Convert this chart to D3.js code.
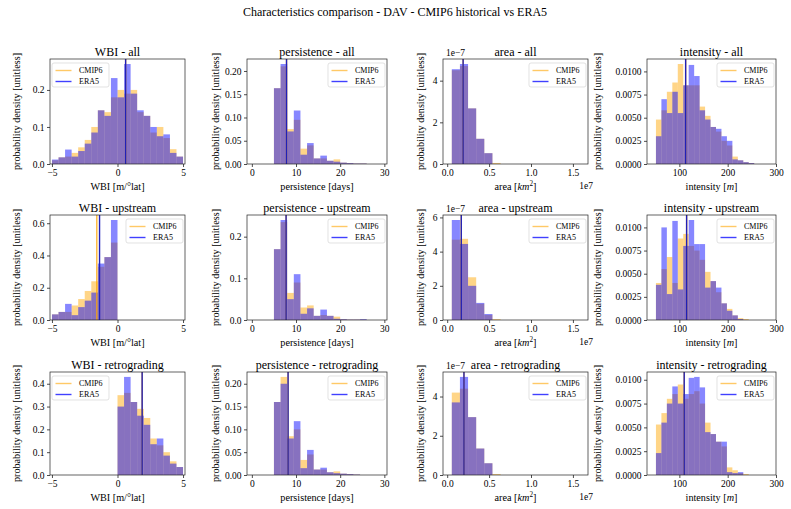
<!DOCTYPE html>
<html><head><meta charset="utf-8">
<script src="https://cdn.jsdelivr.net/npm/d3@7"></script>
<style>body{margin:0;background:#fff}svg{display:block}</style>
</head><body><svg id="c" width="791" height="509"></svg>
<script>
// ---------------- DATA ----------------
const seriesNames = ["CMIP6", "ERA5"];
const suptitle = "Characteristics comparison - DAV - CMIP6 historical vs ERA5";

// WBI
const wbiAllEdges = [-5,-4.5,-4,-3.5,-3,-2.5,-2,-1.5,-1,-0.5,0,0.5,1,1.5,2,2.5,3,3.5,4,4.5,5];
const wbiAllCmip6 = [0.010,0.018,0.020,0.030,0.045,0.065,0.100,0.145,0.140,0.180,0.200,0.190,0.200,0.140,0.130,0.085,0.100,0.070,0.040,0.020];
const wbiAllEra5  = [0.012,0.018,0.039,0.020,0.035,0.055,0.085,0.145,0.130,0.232,0.180,0.270,0.190,0.145,0.130,0.100,0.075,0.080,0.030,0.020];
const wbiUpEdges = [-5,-4.5,-4,-3.5,-3,-2.5,-2,-1.5,-1,-0.5,0];
const wbiUpCmip6 = [0.035,0.050,0.050,0.090,0.130,0.180,0.240,0.330,0.390,0.480];
const wbiUpEra5  = [0.035,0.050,0.100,0.030,0.080,0.120,0.170,0.350,0.390,0.620];
const wbiReEdges = [0,0.5,1,1.5,2,2.5,3,3.5,4,4.5,5];
const wbiReCmip6 = [0.350,0.360,0.320,0.290,0.250,0.160,0.130,0.100,0.060,0.035];
const wbiReEra5  = [0.300,0.430,0.320,0.260,0.220,0.135,0.160,0.085,0.050,0.035];

// persistence
const persEdges = [5,6.5,8,9.5,11,12.5,14,15.5,17,18.5,20,21.5,23,24.5,26];
const persAllCmip6 = [0.163,0.210,0.075,0.095,0.033,0.040,0.012,0.012,0.007,0.010,0.003,0.002,0.001,0.001];
const persAllEra5  = [0.163,0.215,0.070,0.115,0.020,0.045,0.012,0.018,0.007,0.005,0.003,0.002,0.001,0.001];
const persUpCmip6 = [0.170,0.235,0.065,0.090,0.030,0.035,0.010,0.012,0.010,0.008,0.002,0.001,0.001,0.001];
const persUpEra5  = [0.170,0.240,0.050,0.110,0.015,0.028,0.010,0.025,0.010,0.003,0.002,0.001,0.001,0.002];
const persReCmip6 = [0.160,0.215,0.085,0.100,0.033,0.045,0.012,0.012,0.006,0.008,0.003,0.002,0.001,0.000];
const persReEra5  = [0.160,0.200,0.080,0.118,0.015,0.055,0.012,0.016,0.006,0.004,0.003,0.002,0.001,0.000];

// area (x in units of 1e7 km^2, y in units of 1e-7)
const areaEdges = [0.055,0.152,0.249,0.346,0.443,0.540,0.637];
const areaAllCmip6 = [4.50,4.70,2.67,1.21,0.52,0.05];
const areaAllEra5  = [4.55,4.80,2.67,1.21,0.52,0.00];
const areaUpCmip6  = [4.70,4.75,2.50,0.95,0.30,0.05];
const areaUpEra5   = [5.85,4.45,2.00,1.00,0.35,0.00];
const areaReCmip6  = [4.20,4.40,2.95,1.35,0.60,0.05];
const areaReEra5   = [3.70,5.00,2.95,1.35,0.60,0.00];

// intensity
const intEdges = [51.5,62.8,74.1,85.4,96.7,108,119.3,130.6,141.9,153.2,164.5,175.8,187.1,198.4,209.7,221,232.3,243.6,254.9];
const intAllCmip6 = [0.0048,0.0058,0.0078,0.0088,0.0108,0.0085,0.0085,0.0085,0.0062,0.0052,0.0040,0.0035,0.0025,0.0020,0.0008,0.0004,0.0002,0.0001];
const intAllEra5  = [0.0030,0.0070,0.0055,0.0078,0.0055,0.0085,0.0107,0.0095,0.0058,0.0048,0.0040,0.0038,0.0030,0.0025,0.0005,0.0004,0.0002,0.0001];
const intUpCmip6  = [0.0040,0.0055,0.0068,0.0040,0.0088,0.0093,0.0080,0.0075,0.0065,0.0052,0.0042,0.0030,0.0018,0.0012,0.0005,0.0002,0.0001,0.0000];
const intUpEra5   = [0.0038,0.0100,0.0028,0.0107,0.0033,0.0080,0.0108,0.0082,0.0082,0.0035,0.0042,0.0035,0.0018,0.0010,0.0005,0.0001,0.0000,0.0000];
const intReCmip6  = [0.0053,0.0065,0.0080,0.0085,0.0095,0.0080,0.0085,0.0088,0.0075,0.0055,0.0043,0.0035,0.0030,0.0008,0.0005,0.0002,0.0001,0.0000];
const intReEra5   = [0.0023,0.0055,0.0075,0.0093,0.0075,0.0085,0.0102,0.0103,0.0092,0.0045,0.0043,0.0035,0.0035,0.0003,0.0002,0.0003,0.0000,0.0000];

// means (vertical lines) [CMIP6, ERA5]
const meanWbi  = {all:[0.62,0.62], up:[-1.58,-1.37], re:[1.88,1.88]};
const meanPers = {all:[7.85,7.85], up:[7.75,7.75], re:[8.2,8.2]};
const meanArea = {all:[0.19,0.19], up:[0.168,0.168], re:[0.2,0.2]};
const meanInt  = {all:[113,113], up:[115,115], re:[110,110]};

// ticks
const wbiXTicks = [-5,0,5];
const persXTicks = [0,10,20,30];
const areaXTicks = [0,0.5,1.0,1.5];
const intXTicks = [100,200,300];

// ---------------- LAYOUT ----------------
const FONT = '"Liberation Serif","Times New Roman",Times,serif';
const svg = d3.select('#c');
const colsX = [[50,185],[247,387],[443,588],[647,776]];
const rowsY = [[59,164],[215,320],[372,475]];
const ylabX = [16,215,420,597];
const ORANGE = '#ffa500', BLUE = '#0000ff', LINEBLUE = '#2020b8';
const ALPHA = 0.47;
const TICKFS = 9.5, LABFS = 10.2, TITLEFS = 12, LEGFS = 8;

svg.append('text').attr('x',395).attr('y',16).attr('text-anchor','middle')
  .attr('font-family',FONT).attr('font-size',12).text(suptitle);

const fmtMinus = s => s.replace('-', '\u2212');

function panel(p){
  const [x0,x1] = colsX[p.col], [y0,y1] = rowsY[p.row];
  const x = d3.scaleLinear().domain(p.xdom).range([x0,x1]);
  const ymax = 1.05*d3.max(p.cmip.concat(p.era));
  const y = d3.scaleLinear().domain([0,ymax]).range([y1,y0]);
  const id = 'cl'+p.row+p.col;
  svg.append('clipPath').attr('id',id).append('rect')
    .attr('x',x0).attr('y',y0).attr('width',x1-x0).attr('height',y1-y0);
  const g = svg.append('g');
  const plot = g.append('g').attr('clip-path',`url(#${id})`);
  [[p.cmip,ORANGE],[p.era,BLUE]].forEach(([vals,col])=>{
    plot.append('g').selectAll('rect').data(vals).join('rect')
      .attr('x',(d,i)=>x(p.edges[i]))
      .attr('width',(d,i)=>x(p.edges[i+1])-x(p.edges[i]))
      .attr('y',d=>y(d)).attr('height',d=>y(0)-y(d))
      .attr('fill',col).attr('fill-opacity',ALPHA);
  });
  plot.append('line').attr('x1',x(p.mean[0])).attr('x2',x(p.mean[0]))
    .attr('y1',y0).attr('y2',y1).attr('stroke',ORANGE).attr('stroke-opacity',0.8).attr('stroke-width',1.4);
  plot.append('line').attr('x1',x(p.mean[1])).attr('x2',x(p.mean[1]))
    .attr('y1',y0).attr('y2',y1).attr('stroke',LINEBLUE).attr('stroke-width',1.4);

  // axes
  const xa = d3.axisBottom(x).tickValues(p.xticks).tickSize(3).tickPadding(2.5)
    .tickSizeOuter(0).tickFormat(p.xfmt);
  const ya = d3.axisLeft(y).tickValues(p.yticks).tickSize(3).tickPadding(2.5)
    .tickSizeOuter(0).tickFormat(p.yfmt);
  const gx = g.append('g').attr('transform',`translate(0,${y1})`).call(xa);
  const gy = g.append('g').attr('transform',`translate(${x0},0)`).call(ya);
  [gx,gy].forEach(a=>{
    a.select('.domain').remove();
    a.selectAll('line').attr('stroke','#000').attr('stroke-width',0.7);
    a.selectAll('text').attr('font-family',FONT).attr('font-size',TICKFS).attr('fill','#000');
  });
  g.append('rect').attr('x',x0).attr('y',y0).attr('width',x1-x0).attr('height',y1-y0)
    .attr('fill','none').attr('stroke','#222').attr('stroke-width',0.7);

  // title
  g.append('text').attr('x',(x0+x1)/2).attr('y',y0-3.5).attr('text-anchor','middle')
    .attr('font-family',FONT).attr('font-size',TITLEFS).text(p.title);
  // x label
  const xl = g.append('text').attr('x',(x0+x1)/2).attr('y',y1+25.5).attr('text-anchor','middle')
    .attr('font-family',FONT).attr('font-size',LABFS);
  p.xlabel.forEach(seg=>{
    const t = xl.append('tspan').text(seg.t);
    if(seg.i) t.attr('font-style','italic');
    if(seg.sup) t.attr('baseline-shift','super').attr('font-size',7.2);
  });
  // y label
  g.append('text').attr('transform',`translate(${ylabX[p.col]},${(y0+y1)/2}) rotate(-90)`)
    .attr('text-anchor','middle').attr('dy','0.35em')
    .attr('font-family',FONT).attr('font-size',LABFS).text('probability density [unitless]');
  if(p.offsets){
    g.append('text').attr('x',x0+3).attr('y',y0-3).attr('font-family',FONT).attr('font-size',TICKFS).text('1e\u22127');
    g.append('text').attr('x',x1+5).attr('y',y1+25).attr('text-anchor','end').attr('font-family',FONT).attr('font-size',TICKFS).text('1e7');
  }
  // legend
  const lw = 57, lh = 24;
  const lx = p.legendLeft ? x0+2 : x1-2-lw, ly = y0+4;
  const lg = g.append('g');
  lg.append('rect').attr('x',lx).attr('y',ly).attr('width',lw).attr('height',lh).attr('rx',2)
    .attr('fill','#fff').attr('fill-opacity',0.8).attr('stroke','#d6d6d6').attr('stroke-width',0.7);
  [[ORANGE,0.6],[BLUE,0.75]].forEach(([c,op],i)=>{
    const yy = ly+7.5+i*11;
    lg.append('line').attr('x1',lx+3.5).attr('x2',lx+19.5).attr('y1',yy).attr('y2',yy)
      .attr('stroke',c).attr('stroke-opacity',op).attr('stroke-width',1.4);
    lg.append('text').attr('x',lx+27).attr('y',yy).attr('dy','0.35em')
      .attr('font-family',FONT).attr('font-size',LEGFS).text(seriesNames[i]);
  });
}

const f1 = d3.format('.1f'), f2 = d3.format('.2f'), f4 = d3.format('.4f');
const fInt = d => fmtMinus(String(d));
const wbiLabel = [{t:'WBI [m/°lat]'}];
const persLabel = [{t:'persistence [days]'}];
const areaLabel = [{t:'area ['},{t:'km',i:true},{t:'2',i:false,sup:true},{t:']'}];
const intLabel = [{t:'intensity ['},{t:'m',i:true},{t:']'}];

const kinds = ['all','upstream','retrograding'];
const keys = ['all','up','re'];
const wbiData = [[wbiAllEdges,wbiAllCmip6,wbiAllEra5],[wbiUpEdges,wbiUpCmip6,wbiUpEra5],[wbiReEdges,wbiReCmip6,wbiReEra5]];
const persData = [[persEdges,persAllCmip6,persAllEra5],[persEdges,persUpCmip6,persUpEra5],[persEdges,persReCmip6,persReEra5]];
const areaData = [[areaEdges,areaAllCmip6,areaAllEra5],[areaEdges,areaUpCmip6,areaUpEra5],[areaEdges,areaReCmip6,areaReEra5]];
const intData = [[intEdges,intAllCmip6,intAllEra5],[intEdges,intUpCmip6,intUpEra5],[intEdges,intReCmip6,intReEra5]];
const wbiYTicks = [[0,0.1,0.2],[0,0.2,0.4,0.6],[0,0.1,0.2,0.3,0.4]];
const persYTicks = [[0,0.05,0.1,0.15,0.2],[0,0.1,0.2],[0,0.05,0.1,0.15,0.2]];
const persYFmt = [f2,f1,f2];
const areaYTicks = [[0,2,4],[0,2,4,6],[0,2,4]];
const intYTicks = [0,0.0025,0.005,0.0075,0.01];

kinds.forEach((k,r)=>{
  panel({row:r,col:0,title:'WBI - '+k,edges:wbiData[r][0],cmip:wbiData[r][1],era:wbiData[r][2],
    mean:meanWbi[keys[r]],xdom:[-5.15,5.15],xticks:wbiXTicks,xfmt:fInt,yticks:wbiYTicks[r],yfmt:f1,
    xlabel:wbiLabel,legendLeft:r!==1});
  panel({row:r,col:1,title:'persistence - '+k,edges:persData[r][0],cmip:persData[r][1],era:persData[r][2],
    mean:meanPers[keys[r]],xdom:[-1.1,30.6],xticks:persXTicks,xfmt:fInt,yticks:persYTicks[r],yfmt:persYFmt[r],
    xlabel:persLabel});
  panel({row:r,col:2,title:'area - '+k,edges:areaData[r][0],cmip:areaData[r][1],era:areaData[r][2],
    mean:meanArea[keys[r]],xdom:[-0.05,1.68],xticks:areaXTicks,xfmt:f1,yticks:areaYTicks[r],yfmt:d3.format('d'),
    xlabel:areaLabel,offsets:true});
  panel({row:r,col:3,title:'intensity - '+k,edges:intData[r][0],cmip:intData[r][1],era:intData[r][2],
    mean:meanInt[keys[r]],xdom:[33,300],xticks:intXTicks,xfmt:fInt,yticks:intYTicks,yfmt:f4,
    xlabel:intLabel});
});
</script>
</body></html>
